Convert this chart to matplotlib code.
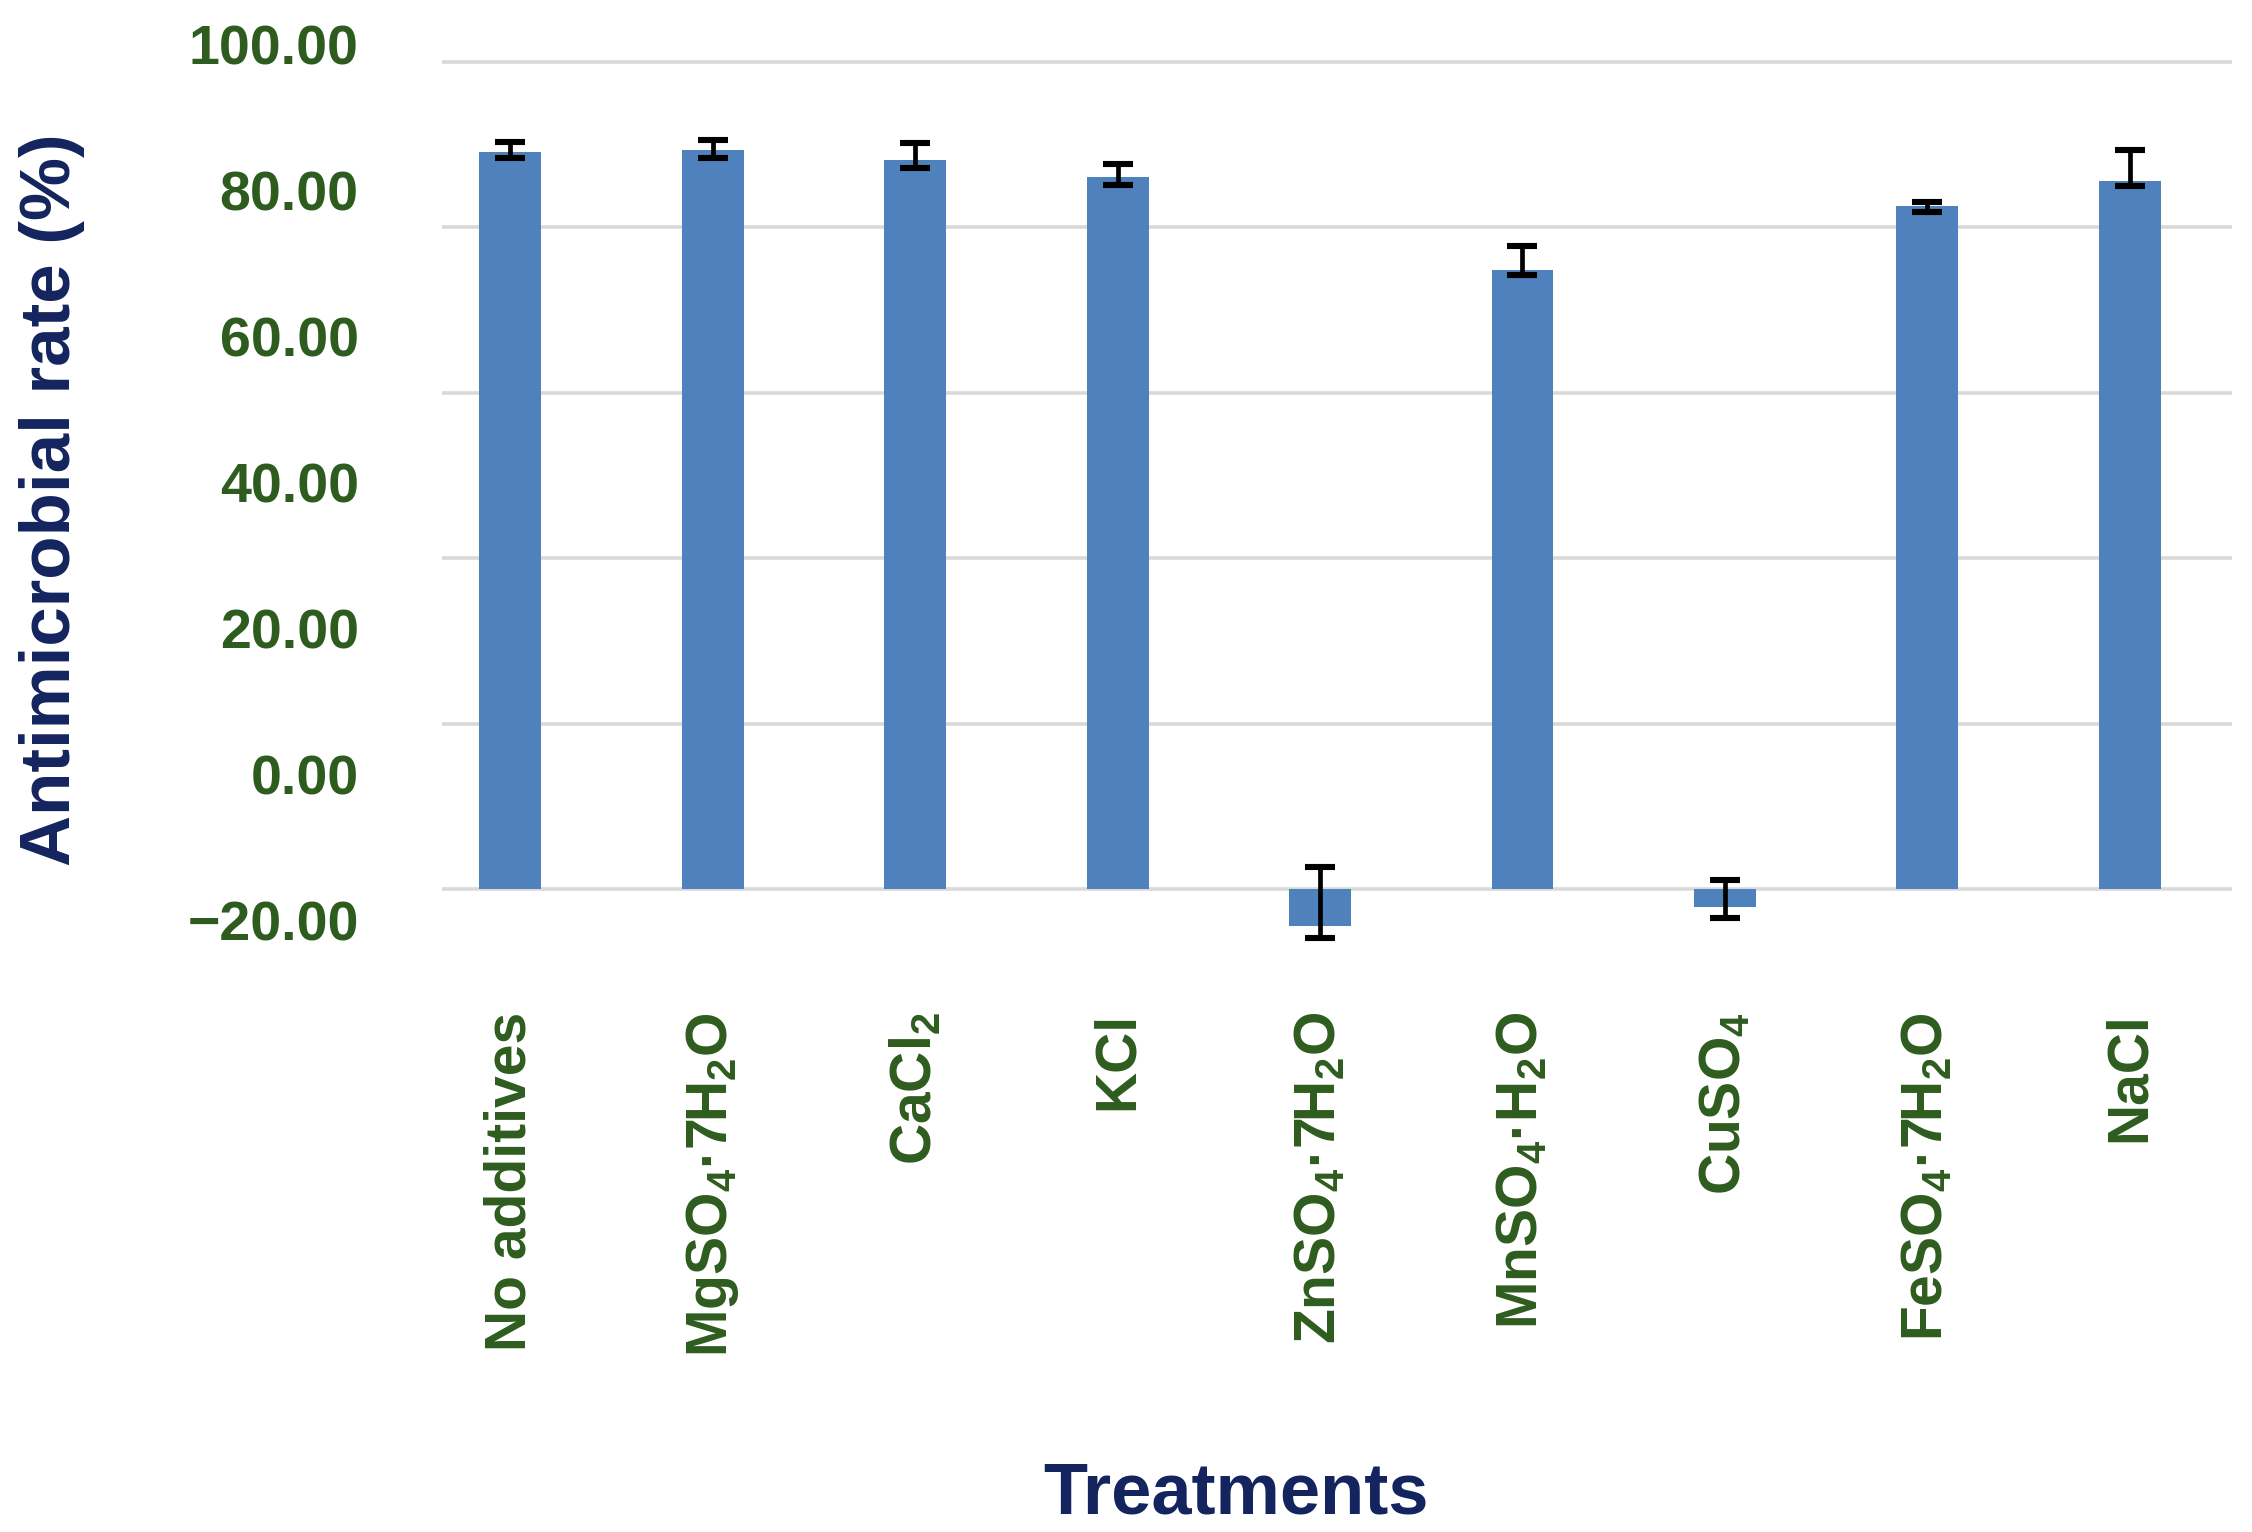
import matplotlib
matplotlib.use("Agg")
import matplotlib.pyplot as plt
import numpy as np

# values
treatments = ["No additives", "MgSO$_4$·7H$_2$O", "CaCl$_2$", "KCl",
              "ZnSO$_4$·7H$_2$O", "MnSO$_4$·H$_2$O", "CuSO$_4$",
              "FeSO$_4$·7H$_2$O", "NaCl"]
rate = [89.1, 89.4, 88.2, 86.1, -4.5, 74.9, -2.2, 82.6, 85.6]
err_low = [0.7, 1.0, 1.0, 1.0, 1.4, 0.7, 1.3, 0.7, 0.6]
err_high = [1.2, 1.2, 2.0, 1.6, 7.2, 2.8, 3.3, 0.5, 3.8]

grid_values = [0, 20, 40, 60, 80, 100]
ytick_labels = ["100.00", "80.00", "60.00", "40.00", "20.00", "0.00", "\u221220.00"]

BAR_COLOR = "#4f81bd"
GREEN = "#2e5c1e"
NAVY = "#13245e"

plt.rcParams["font.family"] = ["Liberation Sans", "DejaVu Sans"]
plt.rcParams["font.weight"] = "bold"
plt.rcParams["mathtext.fontset"] = "custom"
plt.rcParams["mathtext.rm"] = "Liberation Sans:bold"
plt.rcParams["mathtext.it"] = "Liberation Sans:bold"
plt.rcParams["mathtext.bf"] = "Liberation Sans:bold"


def main() -> None:
    fig = plt.figure(figsize=(22.52, 15.32), dpi=100)
    ax = fig.add_axes([0.1963, 0.3657, 0.7948, 0.6154])

    x = np.arange(len(treatments))
    ax.bar(x, rate, width=0.306, color=BAR_COLOR, zorder=2)
    ax.errorbar(x, rate, yerr=[err_low, err_high], fmt="none", ecolor="black",
                elinewidth=3.4, capsize=11, capthick=4.4, zorder=3)

    ax.set_xlim(-0.336, 8.504)
    ax.set_ylim(-10, 104)

    # gridlines at the real scale, the (shifted) labels sit on minor ticks
    ax.set_yticks(grid_values)
    ax.yaxis.grid(True, which="major", color="#d9d9d9", linewidth=2.6)
    ax.set_axisbelow(True)
    ax.tick_params(axis="y", which="major", length=0, labelleft=False)
    label_pos = np.linspace(102.06, -3.75, len(ytick_labels))
    ax.set_yticks(label_pos, labels=ytick_labels, minor=True)
    ax.tick_params(axis="y", which="minor", length=0, pad=60,
                   labelsize=40, labelcolor=GREEN)

    ax.set_xticks(x, labels=treatments, rotation=90)
    ax.tick_params(axis="x", length=0, pad=29, labelsize=41, labelcolor=GREEN)

    for side in ["top", "right", "left", "bottom"]:
        ax.spines[side].set_visible(False)

    fig.text(0.023, 0.674, "Antimicrobial rate (%)", rotation=90,
             ha="center", va="center", fontsize=51, color=NAVY)
    fig.text(0.549, 1 - 1494 / 1532, "Treatments", ha="center", va="center",
             fontsize=52, color=NAVY)

    fig.savefig("out.png", dpi=100)


if __name__ == "__main__":
    main()
